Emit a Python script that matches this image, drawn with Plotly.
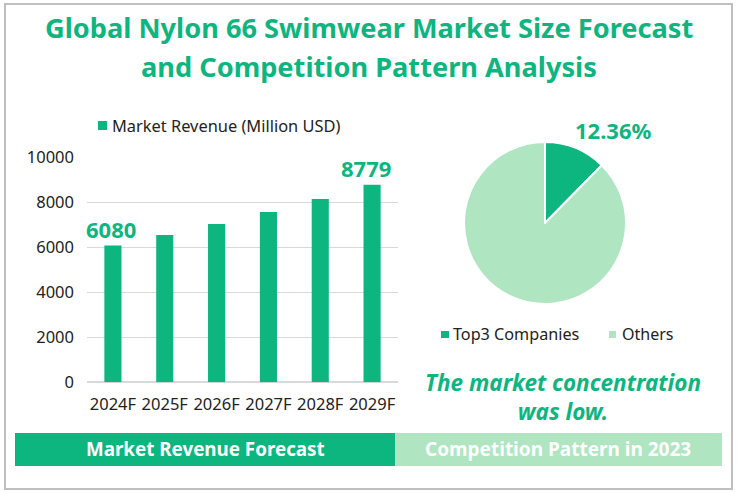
import plotly.graph_objects as go

years = ["2024F", "2025F", "2026F", "2027F", "2028F", "2029F"]
revenue = [6080, 6548, 7037, 7570, 8148, 8779]
yticks = [0, 2000, 4000, 6000, 8000, 10000]
pie_names = ["Top3 Companies", "Others"]
pie_values = [12.36, 87.64]

W = 737
H = 494
GREEN = "#0DB57F"
LIGHT = "#AFE6C1"
FONT = "Noto Sans"


def px(x):
    return x / W


def py(y):
    return 1 - y / H


bars = go.Bar(
    x=years,
    y=revenue,
    name="Market Revenue (Million USD)",
    marker=dict(color=GREEN, line=dict(width=0)),
    width=0.33,
    cliponaxis=False,
    showlegend=False,
)

pie = go.Pie(
    labels=pie_names,
    values=pie_values,
    sort=False,
    direction="clockwise",
    rotation=0,
    marker=dict(colors=[GREEN, LIGHT], line=dict(color="white", width=2)),
    textinfo="none",
    domain=dict(x=[px(464), px(626)], y=[py(304), py(142)]),
    showlegend=False,
)

shapes = [
    dict(type="rect", xref="paper", yref="paper", x0=px(5), x1=px(732), y0=py(489), y1=py(4),
         line=dict(color="#BFBFBF", width=2), fillcolor="rgba(0,0,0,0)"),
    dict(type="rect", xref="paper", yref="paper", x0=px(15), x1=px(395), y0=py(466), y1=py(433),
         line=dict(width=0), fillcolor=GREEN),
    dict(type="rect", xref="paper", yref="paper", x0=px(395), x1=px(722), y0=py(466), y1=py(433),
         line=dict(width=0), fillcolor=LIGHT),
    # legend swatches
    dict(type="rect", xref="paper", yref="paper", x0=px(98), x1=px(107), y0=py(130), y1=py(121),
         line=dict(width=0), fillcolor=GREEN),
    dict(type="rect", xref="paper", yref="paper", x0=px(441), x1=px(449), y0=py(338), y1=py(331),
         line=dict(width=0), fillcolor=GREEN),
    dict(type="rect", xref="paper", yref="paper", x0=px(609), x1=px(616), y0=py(338), y1=py(331),
         line=dict(width=0), fillcolor=LIGHT),
]


def label(x, y, text, size, color, bold=False, italic=False, anchor="center"):
    return dict(
        xref="paper", yref="paper", x=px(x), y=py(y), text=text, showarrow=False,
        xanchor=anchor, yanchor="middle", align="center",
        font=dict(family=FONT, size=size, color=color,
                  weight="bold" if bold else "normal",
                  style="italic" if italic else "normal"),
    )


def bar_label(i, shift):
    # only first and last bar carry a value
    return dict(
        xref="x", yref="y", x=years[i], y=revenue[i], text=str(revenue[i]), showarrow=False,
        xanchor="center", yanchor="bottom", xshift=shift, yshift=0,
        font=dict(family=FONT, size=22, color=GREEN, weight="bold"),
    )


annotations = [
    label(369, 28, "Global Nylon 66 Swimwear Market Size Forecast", 27.2, GREEN, bold=True),
    label(369, 66, "and Competition Pattern Analysis", 27.2, GREEN, bold=True),
    label(110, 125, "Market Revenue (Million USD)", 16.4, "#222222", anchor="left"),
    label(613, 130, "12.36%", 22, GREEN, bold=True),
    label(451, 334, "Top3 Companies", 16.2, "#222222", anchor="left"),
    label(620, 334, "Others", 16, "#222222", anchor="left"),
    label(563, 397, "The market concentration<br>was low.", 22.5, GREEN, bold=True, italic=True),
    label(205, 449, "Market Revenue Forecast", 18.8, "white", bold=True),
    label(558, 449, "Competition Pattern in 2023", 19, "white", bold=True),
    bar_label(0, -2),
    bar_label(5, -6),
]

layout = go.Layout(
    width=W,
    height=H,
    margin=dict(l=0, r=0, t=0, b=0, autoexpand=False),
    paper_bgcolor="white",
    plot_bgcolor="white",
    xaxis=dict(
        domain=[px(87), px(398)],
        anchor="y",
        range=[-0.5, 5.5],
        categoryorder="array",
        categoryarray=years,
        showgrid=False,
        showline=False,
        ticks="",
        ticklabelstandoff=10,
        tickfont=dict(family=FONT, size=16.5, color="#222222"),
    ),
    yaxis=dict(
        domain=[py(382.3), py(157.3)],
        anchor="x",
        range=[0, 10000],
        tickvals=yticks,
        ticktext=[str(t) for t in yticks],
        ticklabelstandoff=12,
        gridcolor="#D9D9D9",
        gridwidth=1,
        zeroline=True,
        zerolinecolor="#D9D9D9",
        tickfont=dict(family=FONT, size=16.5, color="#222222"),
    ),
    shapes=shapes,
    annotations=annotations,
    showlegend=False,
)

fig = go.Figure(data=[bars, pie], layout=layout)
# page body has a default 8px margin that shifts everything
fig.write_html("out.html", config=dict(displayModeBar=False),
               post_script="document.body.style.margin='0';")
